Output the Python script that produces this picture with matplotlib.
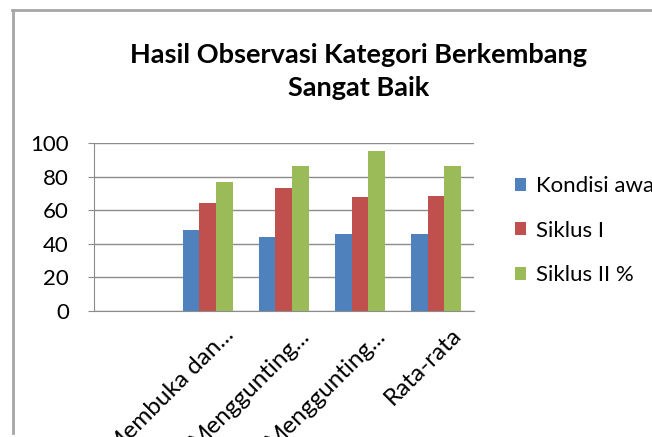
import matplotlib.pyplot as plt
import numpy as np
from matplotlib.lines import Line2D
import matplotlib.transforms as mtransforms

plt.rcParams['font.family'] = ['Lato', 'DejaVu Sans']

# data (first category is empty in the source)
categories = ["", "Membuka dan...", "Menggunting...", "Menggunting...", "Rata-rata"]
kondisi_awal = [np.nan, 48, 44, 46, 46]
siklus_1 = [np.nan, 64, 73, 68, 68.5]
siklus_2 = [np.nan, 77, 86, 95, 86]
series_names = ["Kondisi awal", "Siklus I", "Siklus II %"]
colors = ["#4F81BD", "#C0504D", "#9BBB59"]

fig = plt.figure(figsize=(6.52, 4.37), dpi=100)
ax = fig.add_axes([0.144, 0.288, 0.583, 0.385])

x = np.arange(len(categories))
w = 1 / 4.5
for i, (vals, c) in enumerate(zip([kondisi_awal, siklus_1, siklus_2], colors)):
    ax.bar(x + (i - 1) * w, vals, width=w, color=c, label=series_names[i], zorder=3)

ax.set_xlim(-0.5, len(categories) - 0.5)
ax.set_ylim(0, 100)
ax.set_yticks(range(0, 101, 20))
ax.yaxis.grid(True, color="#8C8C8C", linewidth=1, zorder=0)
ax.tick_params(axis='y', labelsize=16, length=4, color="#8C8C8C", pad=14)
ax.tick_params(axis='x', length=0, pad=0)
ax.set_xticks(x)
ax.set_xticklabels(categories, rotation=45, ha='right', va='top',
                   rotation_mode='anchor', fontsize=17.5)
# shift labels so their upper right corner sits right of the tick
offset = mtransforms.ScaledTranslation(15 / 100, -13 / 100, fig.dpi_scale_trans)
for lbl in ax.get_xticklabels():
    lbl.set_transform(lbl.get_transform() + offset)
for s in ['top', 'right']:
    ax.spines[s].set_visible(False)
for s in ['left', 'bottom']:
    ax.spines[s].set_color("#8C8C8C")

fig.text(0.55, 0.836, "Hasil Observasi Kategori Berkembang\nSangat Baik",
         ha='center', va='center', fontsize=19.5, fontweight='bold',
         linespacing=1.42)

fig.legend(loc='upper left', bbox_to_anchor=(0.776, 0.617), frameon=False,
           fontsize=16, handlelength=0.5, handleheight=0.5, handletextpad=0.45,
           labelspacing=1.1, borderaxespad=0)

# chart frame, cropped in the source image
fig.add_artist(Line2D([12.5 / 652, 12.5 / 652], [4 / 437, 427.5 / 437],
                      color="#A6A6A6", linewidth=2))
fig.add_artist(Line2D([12 / 652, 1], [427.5 / 437, 427.5 / 437],
                      color="#A6A6A6", linewidth=2))

fig.savefig("out.png", dpi=100)
